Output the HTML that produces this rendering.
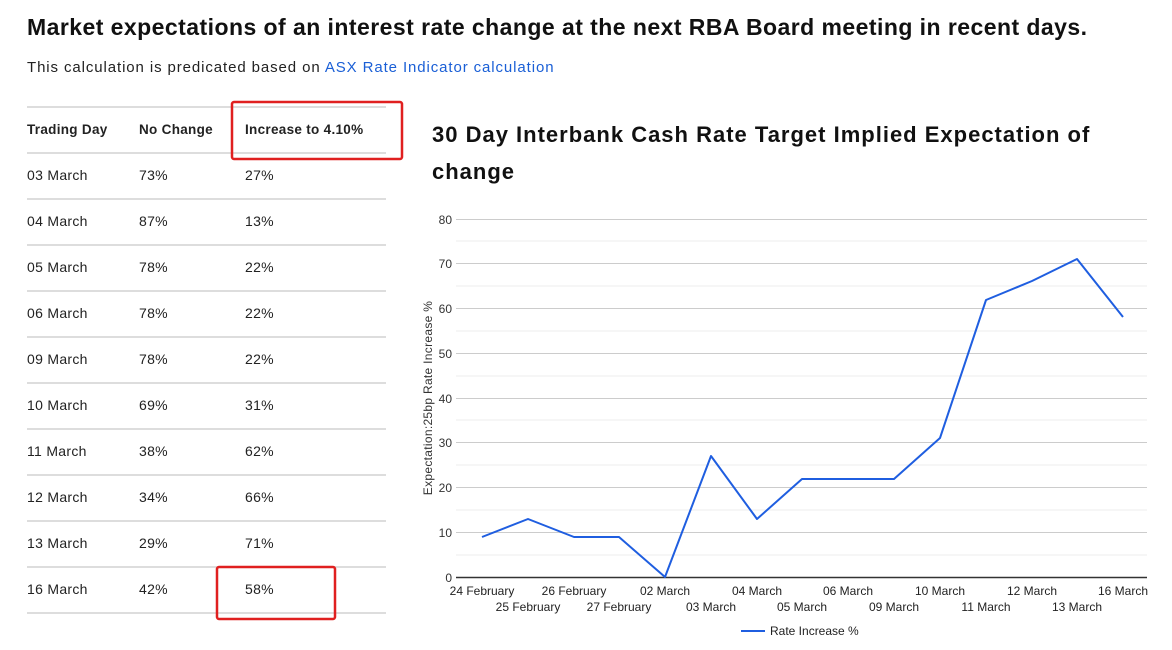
<!DOCTYPE html>
<html><head><meta charset="utf-8"><style>
body{margin:0;width:1172px;height:650px;background:#fff;font-family:"Liberation Sans",sans-serif;color:#222;position:relative;overflow:hidden}
.a{position:absolute;white-space:nowrap}
</style></head><body>
<div class="a" style="left:27px;top:14px;font-size:23px;font-weight:bold;color:#111;letter-spacing:0.45px">Market expectations of an interest rate change at the next RBA Board meeting in recent days.</div>
<div class="a" style="left:27px;top:59px;font-size:15px;letter-spacing:0.9px">This calculation is predicated based on <span style="color:#1a5fd6">ASX Rate Indicator calculation</span></div>
<div class="a" style="left:432px;top:116px;font-size:22px;font-weight:bold;line-height:37px;color:#111;letter-spacing:1px">30 Day Interbank Cash Rate Target Implied Expectation of<br>change</div>
<svg class="a" style="left:0;top:0" width="1172" height="650" font-family="Liberation Sans, sans-serif">
<g stroke="#ddd" stroke-width="2">
<line x1="27" x2="386" y1="107" y2="107"/><line x1="27" x2="386" y1="153" y2="153"/>
<line x1="27" x2="386" y1="199" y2="199"/><line x1="27" x2="386" y1="245" y2="245"/>
<line x1="27" x2="386" y1="291" y2="291"/><line x1="27" x2="386" y1="337" y2="337"/>
<line x1="27" x2="386" y1="383" y2="383"/><line x1="27" x2="386" y1="429" y2="429"/>
<line x1="27" x2="386" y1="475" y2="475"/><line x1="27" x2="386" y1="521" y2="521"/>
<line x1="27" x2="386" y1="567" y2="567"/><line x1="27" x2="386" y1="613" y2="613"/>
</g>
<g font-size="14" fill="#222" letter-spacing="0.3">
<text x="27" y="134" font-weight="bold" font-size="13.5">Trading Day</text><text x="139" y="134" font-weight="bold" font-size="13.5">No Change</text><text x="245" y="134" font-weight="bold" font-size="13.5">Increase to 4.10%</text>
<text x="27" y="180">03 March</text><text x="139" y="180">73%</text><text x="245" y="180">27%</text>
<text x="27" y="226">04 March</text><text x="139" y="226">87%</text><text x="245" y="226">13%</text>
<text x="27" y="272">05 March</text><text x="139" y="272">78%</text><text x="245" y="272">22%</text>
<text x="27" y="318">06 March</text><text x="139" y="318">78%</text><text x="245" y="318">22%</text>
<text x="27" y="364">09 March</text><text x="139" y="364">78%</text><text x="245" y="364">22%</text>
<text x="27" y="410">10 March</text><text x="139" y="410">69%</text><text x="245" y="410">31%</text>
<text x="27" y="456">11 March</text><text x="139" y="456">38%</text><text x="245" y="456">62%</text>
<text x="27" y="502">12 March</text><text x="139" y="502">34%</text><text x="245" y="502">66%</text>
<text x="27" y="548">13 March</text><text x="139" y="548">29%</text><text x="245" y="548">71%</text>
<text x="27" y="594">16 March</text><text x="139" y="594">42%</text><text x="245" y="594">58%</text>
</g>
<rect x="232" y="102" width="170" height="57" rx="2" fill="none" stroke="#e02020" stroke-width="2.5"/>
<rect x="217" y="567" width="118" height="52" rx="2" fill="none" stroke="#e02020" stroke-width="2.5"/>
<g stroke="#eee" stroke-width="1">
<line x1="456" x2="1147" y1="555" y2="555"/><line x1="456" x2="1147" y1="510" y2="510"/><line x1="456" x2="1147" y1="465" y2="465"/><line x1="456" x2="1147" y1="420" y2="420"/><line x1="456" x2="1147" y1="376" y2="376"/><line x1="456" x2="1147" y1="331" y2="331"/><line x1="456" x2="1147" y1="286" y2="286"/><line x1="456" x2="1147" y1="241" y2="241"/>
</g>
<g stroke="#ccc" stroke-width="1">
<line x1="456" x2="1147" y1="532.5" y2="532.5"/><line x1="456" x2="1147" y1="487.5" y2="487.5"/><line x1="456" x2="1147" y1="442.5" y2="442.5"/><line x1="456" x2="1147" y1="398.5" y2="398.5"/><line x1="456" x2="1147" y1="353.5" y2="353.5"/><line x1="456" x2="1147" y1="308.5" y2="308.5"/><line x1="456" x2="1147" y1="263.5" y2="263.5"/><line x1="456" x2="1147" y1="219.5" y2="219.5"/>
</g>
<line x1="456" x2="1147" y1="577.5" y2="577.5" stroke="#333" stroke-width="1.5"/>
<g font-size="12" fill="#333" text-anchor="end">
<text x="452" y="582">0</text><text x="452" y="537">10</text><text x="452" y="492">20</text><text x="452" y="447">30</text><text x="452" y="403">40</text><text x="452" y="358">50</text><text x="452" y="313">60</text><text x="452" y="268">70</text><text x="452" y="224">80</text>
</g>
<text transform="translate(432,398) rotate(-90)" font-size="12" fill="#333" text-anchor="middle" letter-spacing="0.3">Expectation:25bp Rate Increase %</text>
<g font-size="12" fill="#222" text-anchor="middle">
<text x="482" y="595">24 February</text><text x="574" y="595">26 February</text><text x="665" y="595">02 March</text><text x="757" y="595">04 March</text><text x="848" y="595">06 March</text><text x="940" y="595">10 March</text><text x="1032" y="595">12 March</text><text x="1123" y="595">16 March</text>
<text x="528" y="611">25 February</text><text x="619" y="611">27 February</text><text x="711" y="611">03 March</text><text x="802" y="611">05 March</text><text x="894" y="611">09 March</text><text x="986" y="611">11 March</text><text x="1077" y="611">13 March</text>
</g>
<polyline fill="none" stroke="#1f5ee0" stroke-width="2" stroke-linejoin="round" points="482,537 528,519 574,537 619,537 665,577 711,456 757,519 802,479 848,479 894,479 940,438 986,300 1032,281 1077,259 1123,317"/>
<line x1="741" x2="765" y1="631" y2="631" stroke="#1f5ee0" stroke-width="2"/>
<text x="770" y="635" font-size="12" fill="#222">Rate Increase %</text>
</svg>
</body></html>
